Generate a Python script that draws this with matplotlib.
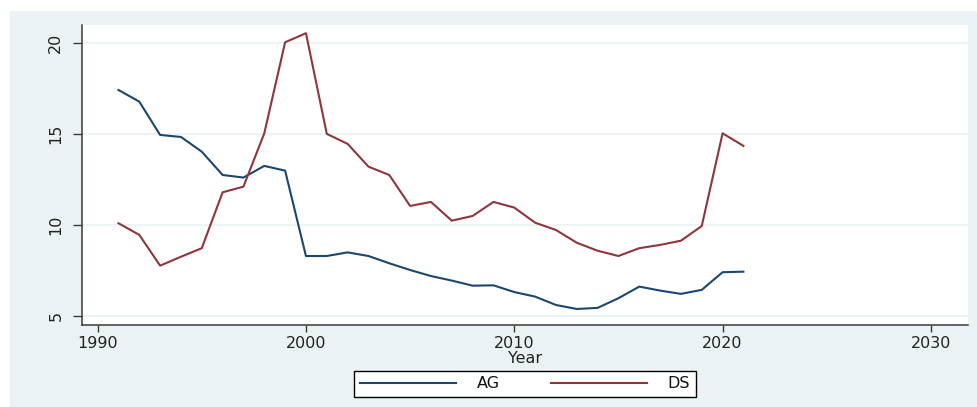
import matplotlib
matplotlib.use("Agg")
import matplotlib.pyplot as plt
from matplotlib.patches import Rectangle

years = list(range(1991, 2022))
ag = [17.43, 16.79, 14.96, 14.85, 14.04, 12.76, 12.62, 13.26, 13.00, 8.31,
      8.31, 8.51, 8.31, 7.91, 7.54, 7.21, 6.96, 6.68, 6.70, 6.33,
      6.08, 5.62, 5.40, 5.46, 5.99, 6.63, 6.41, 6.23, 6.45, 7.42, 7.45]
ds = [10.11, 9.47, 7.78, 8.27, 8.74, 11.81, 12.12, 15.05, 20.05, 20.55,
      15.02, 14.47, 13.22, 12.76, 11.06, 11.28, 10.25, 10.51, 11.28, 10.97,
      10.14, 9.74, 9.04, 8.60, 8.31, 8.74, 8.92, 9.15, 9.96, 15.05, 14.36]
series_names = ["AG", "DS"]
x_ticks = [1990, 2000, 2010, 2020, 2030]
y_ticks = [5, 10, 15, 20]
x_label = "Year"

W, H = 977, 407
fig = plt.figure(figsize=(W / 100, H / 100), dpi=100)
fig.patch.set_facecolor("white")
fig.patches.append(Rectangle((10 / W, 0), 1, 1 - 11 / H, transform=fig.transFigure,
                             facecolor="#EAF2F3", edgecolor="none", zorder=-10))

ax = fig.add_axes([82 / W, 1 - 325 / H, (968 - 82) / W, (325 - 25) / H])
ax.set_facecolor("white")

blue = "#1a476f"
red = "#90353b"
ax.plot(years, ag, color=blue, lw=1.5, label=series_names[0])
ax.plot(years, ds, color=red, lw=1.5, label=series_names[1])

ax.set_xlim(1989.25, 2031.78)
ax.set_ylim(4.52, 21.0)
ax.set_xticks(x_ticks)
ax.set_yticks(y_ticks)
ax.set_yticklabels([str(v) for v in y_ticks], rotation=90, va="center")
ax.grid(axis="y", color="#EAF2F3", lw=1.2)
ax.grid(axis="x", visible=False)
ax.set_axisbelow(True)

for s in ["top", "right"]:
    ax.spines[s].set_visible(False)
for s in ["left", "bottom"]:
    ax.spines[s].set_color("#3a3a3a")
    ax.spines[s].set_linewidth(1.1)

ax.tick_params(axis="x", length=5, width=1, color="#3a3a3a", pad=3,
               labelsize=11.5, labelcolor="#222222")
ax.tick_params(axis="y", length=6.5, width=1, color="#3a3a3a", pad=7,
               labelsize=11.5, labelcolor="#222222")

ax.set_xlabel(x_label, fontsize=11.5, color="#222222", labelpad=0)

leg = fig.legend(loc="center", bbox_to_anchor=(525 / W, 1 - 384 / H), ncol=2,
                 fontsize=11.5, frameon=True, fancybox=False, framealpha=1,
                 edgecolor="black", handlelength=6.0, handletextpad=1.3,
                 columnspacing=3.2, borderpad=0.35)
leg.get_frame().set_linewidth(1.0)
for t in leg.get_texts():
    t.set_color("#111111")

fig.savefig("out.png", dpi=100, facecolor=fig.get_facecolor())
